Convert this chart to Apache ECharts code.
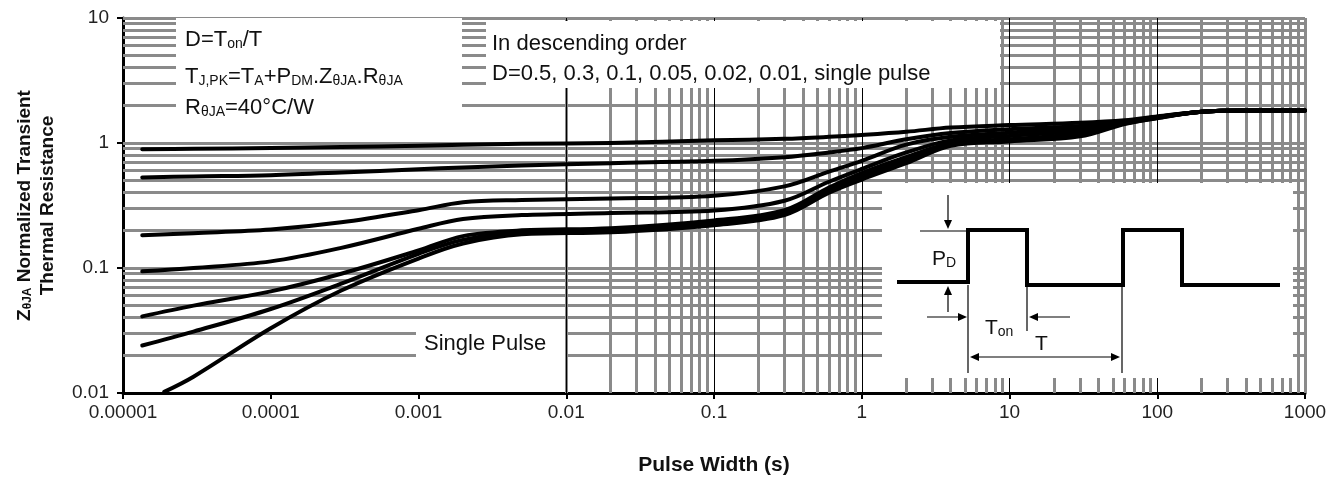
<!DOCTYPE html>
<html><head><meta charset="utf-8">
<script src="https://cdn.jsdelivr.net/npm/echarts@6/dist/echarts.min.js"></script>
<style>html,body{margin:0;padding:0;background:#fff}#c{width:1344px;height:481px}</style>
</head><body><div id="c"></div>
<script>
// ---- data ----
const xTickLabels = ['0.00001','0.0001','0.001','0.01','0.1','1','10','100','1000'];
const yTickLabels = ['0.01','0.1','1','10'];
const pulseWidth  = [1.35e-5, 3e-5, 1e-4, 3e-4, 1e-3, 2e-3, 5e-3, 2e-2, 0.1, 0.3, 0.6, 1, 2, 4, 10, 30, 60, 100, 200, 400, 1000];
const singleWidth = [1.9e-5, 3e-5, 1e-4, 3e-4, 1e-3, 2e-3, 5e-3, 2e-2, 0.1, 0.3, 0.6, 1, 2, 4, 10, 30, 60, 100, 200, 400, 1000];
const zD05   = [0.89, 0.90, 0.91, 0.93, 0.95, 0.97, 0.985, 1.0, 1.05, 1.08, 1.12, 1.16, 1.23, 1.33, 1.39, 1.45, 1.52, 1.63, 1.78, 1.82, 1.82];
const zD03   = [0.53, 0.54, 0.553, 0.58, 0.617, 0.637, 0.66, 0.69, 0.72, 0.77, 0.84, 0.91, 1.07, 1.20, 1.29, 1.37, 1.48, 1.62, 1.78, 1.82, 1.82];
const zD01   = [0.183, 0.19, 0.203, 0.232, 0.29, 0.336, 0.35, 0.36, 0.379, 0.45, 0.59, 0.72, 0.97, 1.12, 1.21, 1.31, 1.46, 1.61, 1.78, 1.82, 1.82];
const zD005  = [0.094, 0.10, 0.113, 0.145, 0.206, 0.247, 0.265, 0.275, 0.288, 0.345, 0.49, 0.62, 0.84, 1.05, 1.14, 1.25, 1.45, 1.60, 1.78, 1.82, 1.82];
const zD002  = [0.041, 0.05, 0.065, 0.09, 0.138, 0.18, 0.20, 0.208, 0.24, 0.29, 0.44, 0.575, 0.77, 0.99, 1.07, 1.19, 1.44, 1.60, 1.78, 1.82, 1.82];
const zD001  = [0.024, 0.031, 0.047, 0.075, 0.13, 0.168, 0.193, 0.20, 0.23, 0.278, 0.42, 0.54, 0.73, 0.97, 1.05, 1.16, 1.43, 1.59, 1.78, 1.82, 1.82];
const zSingle= [0.0102, 0.0135, 0.033, 0.066, 0.119, 0.157, 0.186, 0.193, 0.22, 0.265, 0.40, 0.51, 0.69, 0.95, 1.03, 1.13, 1.42, 1.58, 1.78, 1.82, 1.82];
const seriesNames = ['D=0.5','D=0.3','D=0.1','D=0.05','D=0.02','D=0.01','Single pulse'];
const gridMultipliers = [2,3,4,5,6,7,8,9];
const xDecades = [-5,-4,-3,-2,-1,0,1,2];
const yDecades = [-2,-1,0];

// ---- build ----
const FONT = "'Liberation Sans', Arial, sans-serif";
const pair = (xs, ys) => xs.map((x, i) => [x, ys[i]]);
const curves = [
  pair(pulseWidth, zD05), pair(pulseWidth, zD03), pair(pulseWidth, zD01),
  pair(pulseWidth, zD005), pair(pulseWidth, zD002), pair(pulseWidth, zD001),
  pair(singleWidth, zSingle)
];
const GRAY = '#8a8a8a';
const gs = {color: GRAY, width: 3, type: 'solid'};
const gridLines = [];
yDecades.forEach(d => gridMultipliers.forEach(m => gridLines.push({yAxis: +(m * Math.pow(10, d)).toPrecision(3), lineStyle: gs})));
yDecades.slice(1).forEach(d => gridLines.push({yAxis: Math.pow(10, d), lineStyle: gs}));
gridLines.push({yAxis: 10, lineStyle: gs});
xDecades.forEach(d => gridMultipliers.forEach(m => gridLines.push({xAxis: +(m * Math.pow(10, d)).toPrecision(3), lineStyle: gs})));
gridLines.push({xAxis: 1000, lineStyle: gs});
xDecades.slice(1).forEach(d => gridLines.push({xAxis: Math.pow(10, d), lineStyle: {color: '#000', width: 1, type: 'solid'}}));

const subRich = {
  n: {fontSize: 22, fontFamily: FONT, color: '#111', lineHeight: 26, verticalAlign: 'bottom'},
  s: {fontSize: 14, fontFamily: FONT, color: '#111', lineHeight: 12, verticalAlign: 'bottom'}
};
function txt(x, y, text, rich) {
  return {type: 'text', x: x, y: y, z: 7, silent: true,
    style: {text: text, rich: rich || subRich, fill: '#111', fontSize: 22, fontFamily: FONT, verticalAlign: 'middle', align: 'left'}};
}
function box(x, y, w, h) {
  return {type: 'rect', z: 5, silent: true, shape: {x: x, y: y, width: w, height: h}, style: {fill: '#fff'}};
}
function seg(x1, y1, x2, y2, w) {
  return {type: 'line', z: 7, silent: true, shape: {x1: x1, y1: y1, x2: x2, y2: y2}, style: {stroke: '#000', lineWidth: w || 1.2}};
}
function head(x, y, dir) { // tip at x,y
  const L = 9, W = 4;
  let pts;
  if (dir === 'down') pts = [[x, y], [x - W, y - L], [x + W, y - L]];
  if (dir === 'up') pts = [[x, y], [x - W, y + L], [x + W, y + L]];
  if (dir === 'right') pts = [[x, y], [x - L, y - W], [x - L, y + W]];
  if (dir === 'left') pts = [[x, y], [x + L, y - W], [x + L, y + W]];
  return {type: 'polygon', z: 7, silent: true, shape: {points: pts}, style: {fill: '#000'}};
}
const insetRich = {
  p: {fontSize: 21, fontFamily: FONT, color: '#111', lineHeight: 26, verticalAlign: 'bottom'},
  q: {fontSize: 14, fontFamily: FONT, color: '#111', lineHeight: 12, verticalAlign: 'bottom'}
};

const graphics = [
  box(176, 18, 286, 107),
  box(486, 21, 514, 67),
  box(416, 326, 149, 36),
  box(882, 183, 411, 195),
  txt(185, 38, '{n|D=T}{s|on}{n|/T}'),
  txt(185, 75, '{n|T}{s|J,PK}{n|=T}{s|A}{n|+P}{s|DM}{n|.Z}{s|θJA}{n|.R}{s|θJA}'),
  txt(185, 106, '{n|R}{s|θJA}{n|=40°C/W}'),
  txt(492, 42, '{n|In descending order}'),
  txt(492, 72, '{n|D=0.5, 0.3, 0.1, 0.05, 0.02, 0.01, single pulse}'),
  txt(424, 342, '{n|Single Pulse}'),
  // pulse diagram
  {type: 'polyline', z: 7, silent: true, shape: {points: [[897,282],[968,282],[968,230],[1027,230],[1027,285],[1123,285],[1123,230],[1182,230],[1182,285],[1280,285]]}, style: {stroke: '#000', lineWidth: 4, fill: null}},
  seg(920, 231, 968, 231),
  seg(948, 195, 948, 222), head(948, 229, 'down'),
  seg(948, 312, 948, 293), head(948, 286, 'up'),
  seg(968, 285, 968, 373),
  seg(1027, 287, 1027, 331),
  seg(1122, 287, 1122, 373),
  seg(927, 317, 960, 317), head(967, 317, 'right'),
  seg(1070, 317, 1036, 317), head(1029, 317, 'left'),
  seg(977, 357, 1113, 357), head(970, 357, 'left'), head(1120, 357, 'right'),
  txt(932, 257, '{p|P}{q|D}', insetRich),
  txt(985, 326, '{p|T}{q|on}', insetRich),
  txt(1035, 342, '{p|T}', insetRich)
];

const series = [{
  type: 'line', name: 'grid', z: 1, silent: true, data: [], showSymbol: false,
  markLine: {z: 1, silent: true, symbol: ['none', 'none'], label: {show: false}, animation: false, emphasis: {disabled: true}, data: gridLines}
}];
curves.forEach((c, i) => series.push({
  type: 'line', name: seriesNames[i], data: c, z: 10, showSymbol: false, smooth: 0.35,
  lineStyle: {color: '#000', width: 4, join: 'round', cap: 'round'}, itemStyle: {color: '#000'},
  emphasis: {disabled: true}, animation: false, clip: true
}));

const chart = echarts.init(document.getElementById('c'), null, {renderer: 'canvas'});
chart.setOption({
  backgroundColor: '#fff',
  animation: false,
  grid: {left: 123, right: 39, top: 18, bottom: 86, containLabel: false},
  xAxis: {
    type: 'log', logBase: 10, min: 1e-5, max: 1000, splitNumber: 8,
    name: 'Pulse Width (s)', nameLocation: 'middle', nameGap: 62,
    nameTextStyle: {fontFamily: FONT, fontWeight: 'bold', fontSize: 21, color: '#111'},
    axisLine: {onZero: false, lineStyle: {color: '#000', width: 3}},
    axisTick: {show: true, length: 6, lineStyle: {color: '#000', width: 2}},
    axisLabel: {fontFamily: FONT, fontSize: 19, color: '#222', margin: 10,
      formatter: v => xTickLabels[Math.round(Math.log10(v)) + 5]},
    splitLine: {show: false}, minorTick: {show: false}
  },
  yAxis: {
    type: 'log', logBase: 10, min: 0.01, max: 10, splitNumber: 3,
    name: '{b|Z}{s|θJA}{b| Normalized Transient}\n{b|Thermal Resistance}',
    nameLocation: 'middle', nameRotate: 90, nameGap: 66,
    nameTextStyle: {fontFamily: FONT, fontWeight: 'bold', fontSize: 19, color: '#111', lineHeight: 23,
      rich: {
        b: {fontFamily: FONT, fontWeight: 'bold', fontSize: 19, color: '#111', lineHeight: 23, verticalAlign: 'bottom'},
        s: {fontFamily: FONT, fontSize: 12, color: '#111', lineHeight: 10, verticalAlign: 'bottom'}
      }},
    axisLine: {show: true, lineStyle: {color: '#000', width: 3}},
    axisTick: {show: true, length: 6, lineStyle: {color: '#000', width: 2}},
    axisLabel: {fontFamily: FONT, fontSize: 19, color: '#222', margin: 14,
      formatter: v => yTickLabels[Math.round(Math.log10(v)) + 2]},
    splitLine: {show: false}
  },
  graphic: {elements: graphics},
  series: series
});
</script></body></html>
